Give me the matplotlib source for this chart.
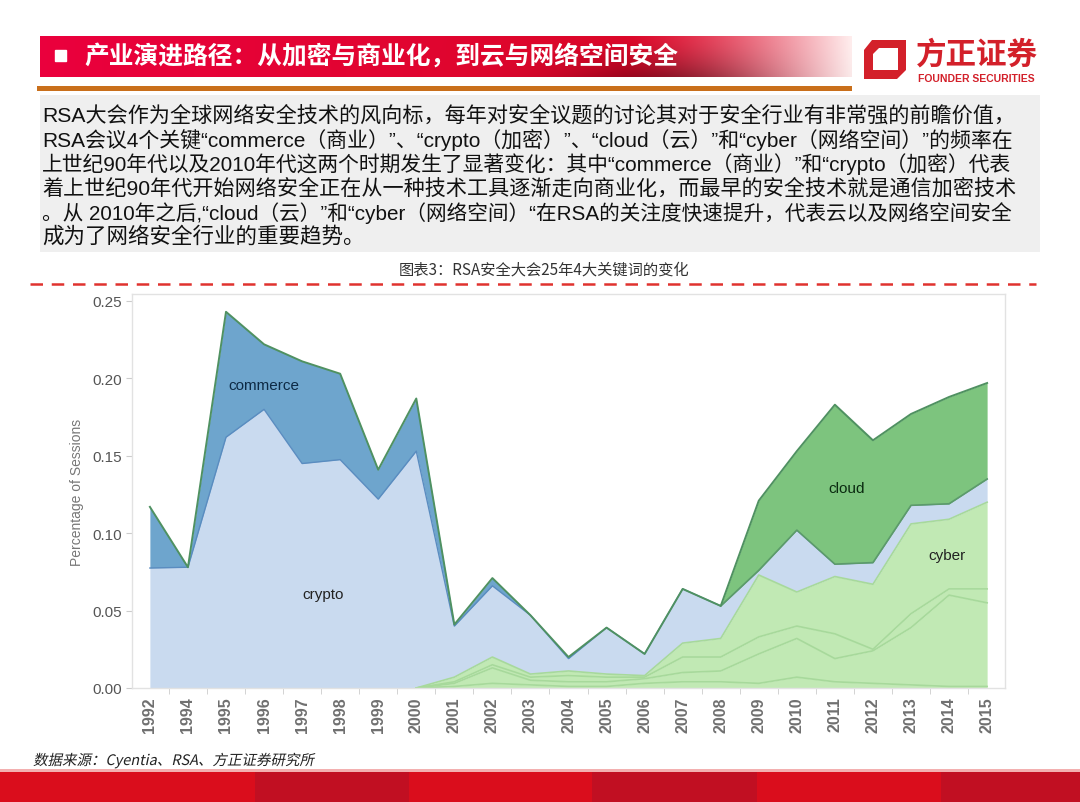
import numpy as np
import matplotlib
matplotlib.use('Agg')
import matplotlib.pyplot as plt
from matplotlib.patches import Rectangle, Polygon, PathPatch
from matplotlib.textpath import TextPath
from matplotlib.font_manager import FontProperties
from matplotlib.transforms import Affine2D

plt.rcParams['font.family'] = ['Noto Sans CJK SC', 'DejaVu Sans']

# ---- data (share of RSA sessions mentioning each keyword) ----
years = ['1992', '1994', '1995', '1996', '1997', '1998', '1999', '2000',
         '2001', '2002', '2003', '2004', '2005', '2006', '2007', '2008',
         '2009', '2010', '2011', '2012', '2013', '2014', '2015']
# cyber band is built from four thin stacked sub-series
cyber_a = [0, 0, 0, 0, 0, 0, 0, 0, 0.001, 0.003, 0.002, 0.001, 0.001, 0.003, 0.004, 0.004,
           0.003, 0.007, 0.004, 0.003, 0.002, 0.001, 0.001]
cyber_b = [0, 0, 0, 0, 0, 0, 0, 0, 0.002, 0.010, 0.003, 0.003, 0.003, 0.003, 0.006, 0.007,
           0.019, 0.025, 0.015, 0.021, 0.037, 0.059, 0.054]
cyber_c = [0, 0, 0, 0, 0, 0, 0, 0, 0.001, 0.002, 0.002, 0.004, 0.003, 0.001, 0.010, 0.009,
           0.011, 0.008, 0.016, 0.001, 0.009, 0.004, 0.009]
cyber_d = [0, 0, 0, 0, 0, 0, 0, 0, 0.003, 0.005, 0.002, 0.003, 0.002, 0.001, 0.009, 0.012,
           0.040, 0.022, 0.037, 0.042, 0.058, 0.045, 0.056]
crypto = [0.0775, 0.078, 0.162, 0.180, 0.145, 0.1475, 0.122, 0.153, 0.033, 0.046, 0.038,
          0.008, 0.030, 0.014, 0.035, 0.021, 0.003, 0.040, 0.008, 0.014, 0.012, 0.010, 0.015]
commerce = [0.0395, 0.0, 0.081, 0.042, 0.066, 0.0555, 0.019, 0.034, 0.001, 0.005, 0, 0.001,
            0, 0, 0, 0, 0, 0, 0, 0, 0, 0, 0]
cloud = [0, 0, 0, 0, 0, 0, 0, 0, 0, 0, 0, 0, 0, 0, 0, 0,
         0.045, 0.051, 0.103, 0.079, 0.059, 0.069, 0.062]

title = '产业演进路径：从加密与商业化，到云与网络空间安全'
para_lines = [
    'RSA大会作为全球网络安全技术的风向标，每年对安全议题的讨论其对于安全行业有非常强的前瞻价值，',
    'RSA会议4个关键“commerce（商业）”、“crypto（加密）”、“cloud（云）”和“cyber（网络空间）”的频率在',
    '上世纪90年代以及2010年代这两个时期发生了显著变化：其中“commerce（商业）”和“crypto（加密）代表',
    '着上世纪90年代开始网络安全正在从一种技术工具逐渐走向商业化，而最早的安全技术就是通信加密技术',
    '。从 2010年之后,“cloud（云）”和“cyber（网络空间）“在RSA的关注度快速提升，代表云以及网络空间安全',
    '成为了网络安全行业的重要趋势。',
]
caption = '图表3：RSA安全大会25年4大关键词的变化'
source = '数据来源：Cyentia、RSA、方正证券研究所'

W, H = 1080, 803
fig = plt.figure(figsize=(W / 100, H / 100), dpi=100)
fig.patch.set_facecolor('white')

# page layer in pixel coordinates
bg = fig.add_axes([0, 0, 1, 1], zorder=0)
bg.set_xlim(0, W)
bg.set_ylim(H, 0)
bg.axis('off')

# header bar with gradient
fx = np.linspace(0, 1, 400)[None, :, None]
fy = np.linspace(0, 1, 40)[:, None, None]
c_left = np.array([0.92, 0.0, 0.24])
c_mid = np.array([0.86, 0.03, 0.16])
c_end = np.array([1.0, 0.93, 0.93])
t1 = np.clip(fx / 0.72, 0, 1)
t2 = np.clip((fx - 0.72) / 0.28, 0, 1) ** 1.4
grad = c_left * (1 - t1) + c_mid * t1
grad = grad * (1 - t2) + c_end * t2
shade = 1 - 0.35 * np.exp(-((fx - 0.78) / 0.13) ** 2) * fy ** 1.5
grad = np.clip(grad * shade, 0, 1)
bg.imshow(grad, extent=[40, 852, 78, 37], aspect='auto', zorder=1)
bg.add_patch(Rectangle((55, 51), 11, 11, color='white', zorder=2))
bg.text(84, 56, title, color='white', fontsize=17.8, fontweight='bold',
        va='center', ha='left', zorder=3)
bg.add_patch(Rectangle((37, 87), 815, 5, color='#c96f1b', lw=0, zorder=1))

# logo
red = '#d3202a'
bg.add_patch(Polygon([(872, 41), (906, 41), (906, 71), (897, 80), (864, 80), (864, 51)],
                     closed=True, color=red, lw=0, zorder=2))
bg.add_patch(Polygon([(879, 49), (898, 49), (898, 71), (873, 71), (873, 55)],
                     closed=True, color='white', lw=0, zorder=3))
bg.text(977, 55, '方正证券', color=red, fontsize=22, fontweight='bold',
        ha='center', va='center', zorder=3)
bg.text(976, 79, 'FOUNDER SECURITIES', color=red, fontsize=7.5, fontweight='bold',
        family=['Liberation Sans', 'DejaVu Sans'], ha='center', va='center', zorder=3)

# text box
bg.add_patch(Rectangle((40, 96), 1000, 157, color='#efefef', lw=0, zorder=1))
renderer = fig.canvas.get_renderer()
para_font = ['Liberation Sans', 'Noto Sans CJK SC', 'DejaVu Sans']
line_y = [115, 140, 164, 188, 213, 237]
for i, line in enumerate(para_lines):
    t = bg.text(42, line_y[i], line, fontsize=15.5, color='#111111', family=para_font,
                va='center', ha='left', zorder=2)
    if i < 5:
        w = t.get_window_extent(renderer).width
        t.set_fontsize(15.5 * 971 / w)

bg.text(544, 270, caption, fontsize=11, color='#333333', ha='center', va='center')
bg.plot([30, 1036], [285, 285], color='#e0322f', lw=1.8, ls=(0, (5, 3.5)), zorder=2)

# source line, slanted like italic
tp = TextPath((0, 0), source, size=14.5, prop=FontProperties(family='Noto Sans CJK SC'))
tr = Affine2D().skew_deg(12, 0).scale(1, -1).translate(33, 766) + bg.transData
bg.add_patch(PathPatch(tp, transform=tr, color='#222222', lw=0, zorder=2))

# footer blocks
edges = [0, 255, 409, 592, 757, 941, W]
for k in range(len(edges) - 1):
    col = '#da0d1c' if k % 2 == 0 else '#c10f22'
    bg.add_patch(Rectangle((edges[k], 772), edges[k + 1] - edges[k], 31, color=col, lw=0, zorder=1))
bg.add_patch(Rectangle((0, 770), W, 2.5, color='#f3b0b0', lw=0, zorder=1))

# ---- chart ----
ax = fig.add_axes([132 / W, 1 - 689 / H, (1005 - 132) / W, (689 - 295) / H], zorder=1)
x = np.arange(len(years))

cyber_fill = '#c1e9b4'
cyber_line = '#a7d99b'
layers = [(cyber_a, cyber_fill), (cyber_b, cyber_fill), (cyber_c, cyber_fill),
          (cyber_d, cyber_fill), (crypto, '#c9daef'), (commerce, '#6ea5cd')]

def trim(y):
    y = y.copy()
    nz = y > 0
    keep = nz | np.roll(nz, 1) | np.roll(nz, -1)
    y[~keep] = np.nan
    return y

base = np.zeros(len(years))
tops = []
for vals, col in layers:
    top = base + np.array(vals)
    ax.fill_between(x, base, top, color=col, lw=0, zorder=1)
    tops.append(top)
    base = top

cloud_top = base + np.array(cloud)
ax.fill_between(x, base, cloud_top, color='#7dc47e', lw=0, zorder=3)

for top in tops[:4]:
    ax.plot(x, trim(top), color=cyber_line, lw=1.2, zorder=2)
ax.plot(x, tops[4], color='#5a8cc0', lw=1.0, zorder=2)
ax.plot(x[15:], base[15:], color='#5c9a6b', lw=1.2, zorder=4)
ax.plot(x, cloud_top, color='#4f9161', lw=1.4, zorder=4)

lab = dict(fontsize=11, family=['Liberation Sans', 'DejaVu Sans'], ha='center', va='center', zorder=5)
ax.text(3.0, 0.196, 'commerce', color='#0d2a45', **lab)
ax.text(4.55, 0.061, 'crypto', color='#222222', **lab)
ax.text(18.3, 0.129, 'cloud', color='#0a2a10', **lab)
ax.text(20.95, 0.086, 'cyber', color='#222222', **lab)

ax.set_xlim(-0.47, 22.47)
ax.set_ylim(0, 0.2545)
ax.set_yticks([0, 0.05, 0.10, 0.15, 0.20, 0.25])
ax.set_yticklabels(['0.00', '0.05', '0.10', '0.15', '0.20', '0.25'],
                   family=['Liberation Sans', 'DejaVu Sans'], fontsize=11, color='#555555')
ax.set_xticks(x)
ax.set_xticklabels(years, rotation=90, family=['Liberation Sans', 'DejaVu Sans'],
                   fontsize=11.5, fontweight='bold', color='#707070')
ax.set_xticks(x[:-1] + 0.5, minor=True)
ax.tick_params(axis='x', which='major', length=0, pad=6)
ax.tick_params(axis='x', which='minor', length=4, color='#cccccc')
ax.tick_params(axis='y', length=4, color='#cccccc', pad=3)
ax.set_ylabel('Percentage of Sessions', family=['Liberation Sans', 'DejaVu Sans'],
              fontsize=10, color='#777777', labelpad=6)
for s in ax.spines.values():
    s.set_color('#e2e2e2')
    s.set_linewidth(1)

fig.savefig('out.png', dpi=100)
